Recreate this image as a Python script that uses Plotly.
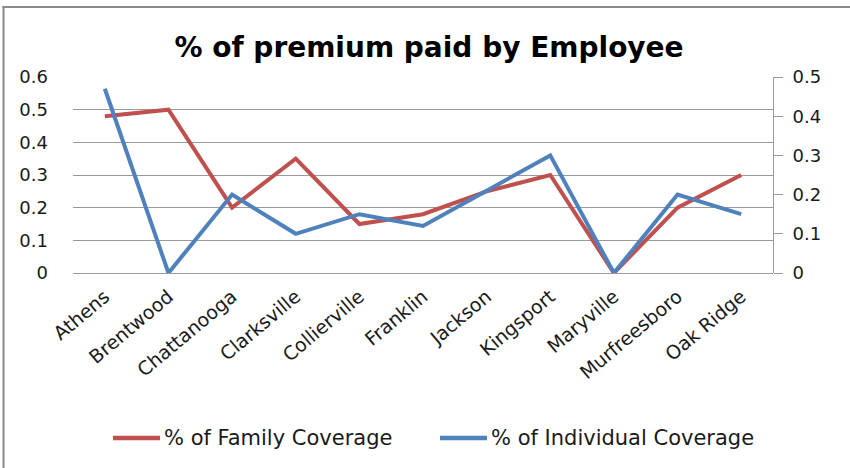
import plotly.graph_objects as go

# Cities surveyed
cities = ["Athens", "Brentwood", "Chattanooga", "Clarksville", "Collierville",
          "Franklin", "Jackson", "Kingsport", "Maryville", "Murfreesboro", "Oak Ridge"]

# Share of premium paid by the employee (family plan, left axis)
family_share = [0.48, 0.50, 0.20, 0.35, 0.15, 0.18, 0.25, 0.30, 0.00, 0.20, 0.30]

# Share of premium paid by the employee (individual plan, right axis)
individual_share = [0.47, 0.00, 0.20, 0.10, 0.15, 0.12, 0.21, 0.30, 0.00, 0.20, 0.15]

left_ticks = [0, 0.1, 0.2, 0.3, 0.4, 0.5, 0.6]
right_ticks = [0, 0.1, 0.2, 0.3, 0.4, 0.5]

series_names = ["% of Family Coverage", "% of Individual Coverage"]
series_colors = ["#C0504D", "#4F81BD"]

W, H = 850, 468
L, R, T, B = 73, 77, 77, 195
FONT = "DejaVu Sans"
INK = "#1a1a1a"
GRID = "#9a9a9a"

fig = go.Figure()
fig.add_trace(go.Scatter(
    x=cities, y=family_share, name=series_names[0], mode="lines",
    line=dict(color=series_colors[0], width=4), yaxis="y"))
fig.add_trace(go.Scatter(
    x=cities, y=individual_share, name=series_names[1], mode="lines",
    line=dict(color=series_colors[1], width=4), yaxis="y2"))

pw, ph = W - L - R, H - T - B


def px_x(p):
    return (p - L) / pw


def px_y(p):
    return (H - B - p) / ph


# Outer frame (left and top edges)
frame = dict(color="#8a8a8a", width=2)
shapes = [
    dict(type="line", xref="paper", yref="paper", x0=px_x(3.5), x1=px_x(3.5),
         y0=px_y(6), y1=px_y(470), line=frame),
    dict(type="line", xref="paper", yref="paper", x0=px_x(2.5), x1=px_x(850),
         y0=px_y(7), y1=px_y(7), line=frame),
]

# Legend below the plot: a line sample followed by the series name
annotations = []
legend_y = 438
for name, color, x0 in zip(series_names, series_colors, [113, 440]):
    shapes.append(dict(type="line", xref="paper", yref="paper",
                       x0=px_x(x0), x1=px_x(x0 + 47), y0=px_y(legend_y), y1=px_y(legend_y),
                       line=dict(color=color, width=4.5)))
    annotations.append(dict(text=name, xref="paper", yref="paper",
                            x=px_x(x0 + 49), y=px_y(legend_y), xanchor="left",
                            yanchor="middle", showarrow=False,
                            font=dict(family=FONT, size=21, color=INK)))

fig.update_layout(
    width=W, height=H, autosize=False,
    margin=dict(l=L, r=R, t=T, b=B, pad=0),
    paper_bgcolor="white", plot_bgcolor="white",
    font=dict(family=FONT, color=INK, size=18),
    title=dict(text="% of premium paid by Employee", xref="container", x=429 / W,
               xanchor="center", yref="container", y=1 - 47 / H, yanchor="middle",
               font=dict(family=FONT, size=28, weight="bold", color="#000")),
    xaxis=dict(type="category", range=[-0.5, len(cities) - 0.5], showgrid=False,
               showline=False, zeroline=False, ticks="", tickangle=-40,
               ticklabelstandoff=8,
               tickfont=dict(size=19, color=INK), automargin=False),
    yaxis=dict(range=[0, 0.6], tickvals=left_ticks, showgrid=True, gridcolor=GRID,
               gridwidth=1, zeroline=True, zerolinecolor=GRID, zerolinewidth=1,
               showline=False, ticks="", ticklabelstandoff=24,
               tickfont=dict(size=18, color=INK), automargin=False),
    yaxis2=dict(range=[0, 0.5], tickvals=right_ticks, overlaying="y", side="right",
                showgrid=False, zeroline=False, showline=True, linecolor=GRID,
                linewidth=1, ticks="outside", ticklen=9, tickcolor=GRID,
                ticklabelstandoff=6, tickfont=dict(size=18, color=INK),
                automargin=False),
    shapes=shapes,
    annotations=annotations,
    showlegend=False,
)

fig.write_html("out.html")
